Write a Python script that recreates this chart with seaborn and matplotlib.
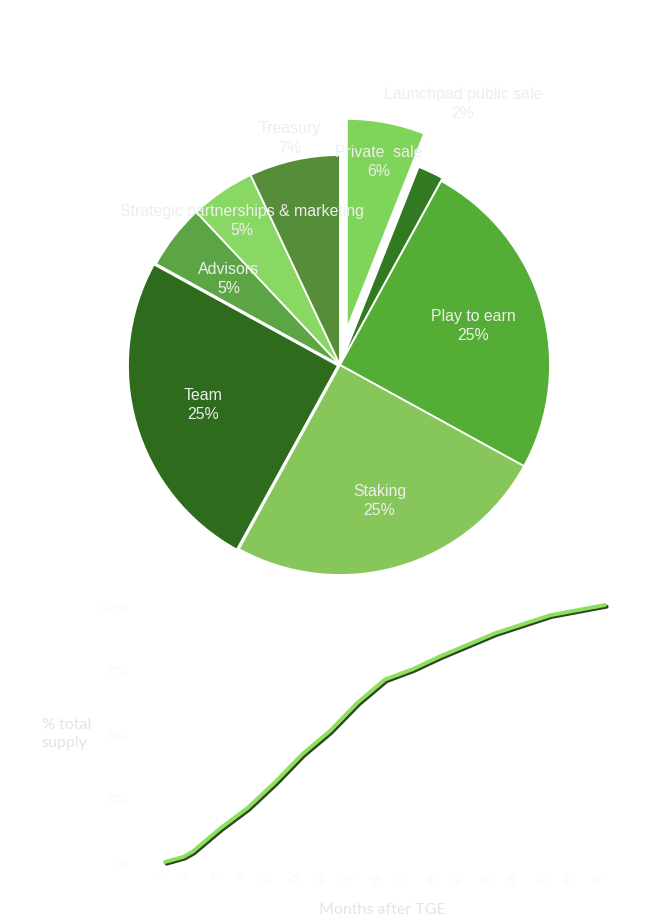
import numpy as np
import pandas as pd
import matplotlib
matplotlib.use("Agg")
import matplotlib.pyplot as plt
import matplotlib.patheffects as pe
import seaborn as sns

# Token allocation, clockwise from the top
ALLOC_LABELS = ["Private  sale", "Launchpad public sale", "Play to earn", "Staking",
                "Team", "Advisors", "Strategic partnerships & marketing", "Treasury"]
ALLOC_PCT = [6, 2, 25, 25, 25, 5, 5, 7]
ALLOC_COLORS = ["#7ed55a", "#317a22", "#54ad35", "#86c65a",
                "#2e6b1d", "#5ca545", "#8ad864", "#568d38"]
EXPLODE = [0.175, 0.015, 0, 0, 0.01, 0, 0, 0]
LABEL_DIST = [0.81, 1.36, 0.66, 0.675, 0.67, 0.67, 0.83, 1.105]

# Unlock schedule
MONTHS = [0, 2, 3, 6, 9, 12, 15, 18, 21, 24, 27, 30, 36, 42, 48]
UNLOCKED = [0, 2, 4, 13, 21, 31, 42, 51, 62, 71, 75, 80, 89, 96, 100]
Y_TICKS = [0, 25, 50, 75, 100]
X_TICKS = list(range(0, 49, 3))

sns.set_theme(style="white")
plt.rcParams["font.family"] = ["Liberation Sans", "DejaVu Sans"]

W, H = 660, 917
fig = plt.figure(figsize=(W / 100, H / 100), dpi=100)
fig.patch.set_facecolor("white")

# Pie - centre at (340, 365) px, radius 210 px
R = 210
ax_pie = fig.add_axes([100 / W, (H - 590) / H, 480 / W, 530 / H])
wedges, texts = ax_pie.pie(
    ALLOC_PCT,
    colors=ALLOC_COLORS,
    explode=EXPLODE,
    startangle=90,
    counterclock=False,
    labels=[f"{l}\n{p}%" for l, p in zip(ALLOC_LABELS, ALLOC_PCT)],
    wedgeprops={"edgecolor": "white", "linewidth": 1.3},
    textprops={"fontsize": 11.4, "color": "#eeeeee"},
)
for w, t, d in zip(wedges, texts, LABEL_DIST):
    th = np.deg2rad((w.theta1 + w.theta2) / 2)
    cx, cy = w.center
    t.set_position((cx + d * w.r * np.cos(th), cy + d * w.r * np.sin(th)))
    t.set_ha("center")
    t.set_va("center")
    t.set_linespacing(1.35)
ax_pie.set_aspect("auto")
ax_pie.set_xlim(-240 / R, 240 / R)
ax_pie.set_ylim(-225 / R, 305 / R)
ax_pie.axis("off")

# Unlock line chart
ax = fig.add_axes([165 / W, (H - 862) / H, 440 / W, 257 / H])
df = pd.DataFrame({"month": MONTHS, "pct": UNLOCKED})
sns.lineplot(
    data=df, x="month", y="pct", ax=ax,
    color="#8fdf5f", linewidth=2.8, clip_on=False,
    path_effects=[pe.SimpleLineShadow(offset=(1.2, -1.2), shadow_color="#1f3d15", alpha=0.95),
                  pe.Normal()],
)
ax.set_xlim(0, 48)
ax.set_ylim(0, 100)
ax.set_xticks(X_TICKS)
ax.set_xticklabels([str(m) for m in X_TICKS], rotation=45, ha="right",
                   color="#f8f8f8", fontsize=8, family="Lato")
ax.set_yticks(Y_TICKS)
ax.set_yticklabels([f"{v}%" for v in Y_TICKS], color="#f8f8f8", fontsize=8, family="Lato")
ax.tick_params(axis="y", pad=26, length=0)
ax.tick_params(axis="x", pad=6, length=0)
for s in ax.spines.values():
    s.set_visible(False)

ax.set_xlabel("Months after TGE", color="#e4e4e4", fontsize=11.5, family="Lato")
ax.xaxis.set_label_coords(0.493, -0.16)
ax.set_ylabel("% total\nsupply", color="#e4e4e4", fontsize=11.5, family="Lato",
              rotation=0, ha="left", va="center", linespacing=1.3)
ax.yaxis.set_label_coords(-0.28, 0.498)

fig.savefig("out.png", dpi=100, facecolor="white")
